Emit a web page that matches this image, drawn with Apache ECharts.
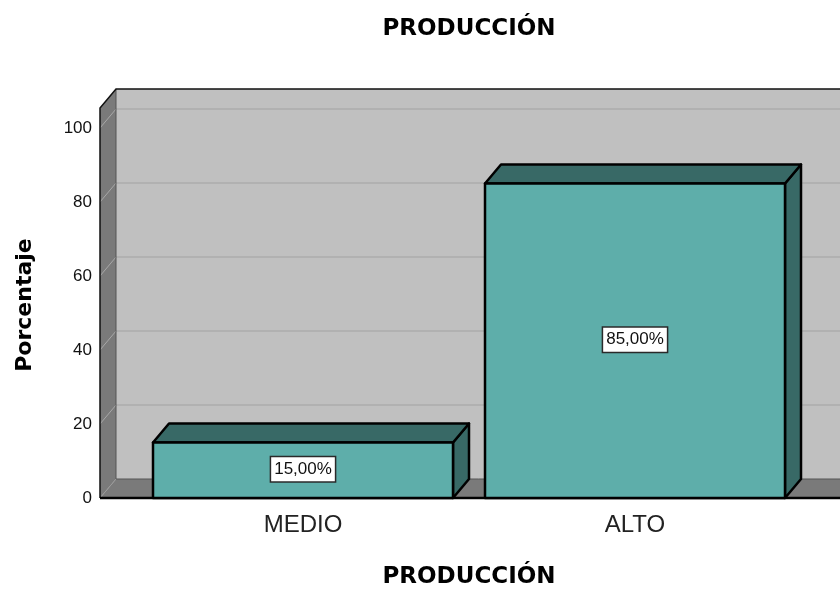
<!DOCTYPE html>
<html><head><meta charset="utf-8">
<script src="https://cdn.jsdelivr.net/npm/echarts@6/dist/echarts.min.js"></script>
<style>html,body{margin:0;padding:0;background:#fff}#c{width:840px;height:591px}</style>
</head><body><div id="c"></div>
<script>
// ---- data ----
const chartTitle = 'PRODUCCIÓN';
const xAxisTitle = 'PRODUCCIÓN';
const yAxisTitle = 'Porcentaje';
const categories = ['MEDIO', 'ALTO'];
const percentages = [15, 85];
const yTicks = [0, 20, 40, 60, 80, 100];
const wallTopValue = 105.4;

// ---- style / layout ----
const DX = 16, DY = -19;
const AXIS_OFFSET = 37;
const BAR_RATIO = 0.9036;
const FRONT = '#5eaeaa', DARK = '#386966';
const WALL = '#c0c0c0', SIDE = '#7a7a7a';

function fmt(v) { return v.toFixed(2).replace('.', ',') + '%'; }

function renderWalls(params, api) {
  const cs = params.coordSys;
  const xl = cs.x - AXIS_OFFSET;
  const xr = cs.x + cs.width + 80;
  const y0 = api.coord([0, yTicks[0]])[1];
  const yT = api.coord([0, wallTopValue])[1];
  const ch = [];
  ch.push({type: 'rect', shape: {x: xl + DX, y: yT + DY, width: xr - xl - DX, height: y0 - yT}, style: {fill: WALL}});
  yTicks.forEach(function (t) {
    if (t === yTicks[0]) return;
    const y = api.coord([0, t])[1];
    ch.push({type: 'line', shape: {x1: xl + DX, y1: y + DY, x2: xr, y2: y + DY}, style: {stroke: '#adadad', lineWidth: 1.5}});
  });
  ch.push({type: 'polygon', shape: {points: [[xl, y0], [xl, yT], [xl + DX, yT + DY], [xl + DX, y0 + DY]]}, style: {fill: SIDE}});
  yTicks.forEach(function (t) {
    if (t === yTicks[0]) return;
    const y = api.coord([0, t])[1];
    ch.push({type: 'line', shape: {x1: xl, y1: y, x2: xl + DX, y2: y + DY}, style: {stroke: '#a8a8a8', lineWidth: 1}});
  });
  ch.push({type: 'polygon', shape: {points: [[xl, y0], [xr, y0], [xr + DX, y0 + DY], [xl + DX, y0 + DY]]}, style: {fill: SIDE}});
  ch.push({type: 'polyline', shape: {points: [[xl + DX, yT + DY], [xl + DX, y0 + DY], [xr, y0 + DY]]}, style: {stroke: '#555', lineWidth: 1, fill: null}});
  ch.push({type: 'line', shape: {x1: xl, y1: y0, x2: xl + DX, y2: y0 + DY}, style: {stroke: '#9a9a9a', lineWidth: 1}});
  ch.push({type: 'polyline', shape: {points: [[xl, y0], [xl, yT], [xl + DX, yT + DY], [xr, yT + DY]]}, style: {stroke: '#111', lineWidth: 1.5, fill: null}});
  ch.push({type: 'line', shape: {x1: xl, y1: y0, x2: xr, y2: y0}, style: {stroke: '#000', lineWidth: 2.5}});
  return {type: 'group', children: ch};
}

function renderBar(params, api) {
  const idx = api.value(0), v = api.value(1);
  const top = api.coord([idx, v]);
  const base = api.coord([idx, 0]);
  const bw = api.size([1, 0])[0] * BAR_RATIO;
  const x0 = top[0] - bw / 2, x1 = top[0] + bw / 2;
  const yt = top[1], yb = base[1];
  const st = {stroke: '#000', lineWidth: 2.5, lineJoin: 'round'};
  return {type: 'group', children: [
    {type: 'polygon', shape: {points: [[x1, yt], [x1, yb], [x1 + DX, yb + DY], [x1 + DX, yt + DY]]}, style: Object.assign({fill: DARK}, st)},
    {type: 'polygon', shape: {points: [[x0, yt], [x1, yt], [x1 + DX, yt + DY], [x0 + DX, yt + DY]]}, style: Object.assign({fill: DARK}, st)},
    {type: 'rect', shape: {x: x0, y: yt, width: bw, height: yb - yt}, style: Object.assign({fill: FRONT}, st)},
    {type: 'text', z2: 10, style: {text: fmt(v), x: top[0], y: (yt + yb) / 2 - 1, align: 'center', verticalAlign: 'middle',
      fill: '#111', fontSize: 17, fontFamily: 'Liberation Sans', backgroundColor: '#fff', borderColor: '#2a2a2a', borderWidth: 1.5, padding: [4, 3, 3, 3]}}
  ]};
}

const chart = echarts.init(document.getElementById('c'), null, {renderer: 'canvas'});
chart.setOption({
  animation: false,
  backgroundColor: '#fff',
  title: {text: chartTitle, left: 464, top: 13, textAlign: 'center',
    textStyle: {fontFamily: 'DejaVu Sans', fontWeight: 'bold', fontSize: 23, color: '#000'}},
  grid: {left: 137, right: 39, top: 128, bottom: 93, outerBoundsMode: 'none', containLabel: false},
  xAxis: {type: 'category', data: categories,
    axisLine: {show: false}, axisTick: {show: false},
    axisLabel: {fontFamily: 'Liberation Sans', fontSize: 24, color: '#222', margin: 15},
    name: xAxisTitle, nameLocation: 'middle', nameGap: 68,
    nameTextStyle: {fontFamily: 'DejaVu Sans', fontWeight: 'bold', fontSize: 23, color: '#000'}},
  yAxis: {type: 'value', min: yTicks[0], max: yTicks[yTicks.length - 1], interval: 20, offset: AXIS_OFFSET,
    axisLine: {show: false}, axisTick: {show: false}, splitLine: {show: false},
    axisLabel: {fontFamily: 'Liberation Sans', fontSize: 17, color: '#111', margin: 8, padding: [5, 0, 0, 0]},
    name: yAxisTitle, nameLocation: 'middle', nameGap: 64,
    nameTextStyle: {fontFamily: 'DejaVu Sans', fontWeight: 'bold', fontSize: 22, color: '#000', padding: [0, 0, 0, 16]}},
  series: [
    {type: 'custom', z: 1, silent: true, renderItem: renderWalls, data: [[0, 0]], encode: {x: 0, y: 1}, clip: false},
    {type: 'custom', z: 2, renderItem: renderBar, data: categories.map(function (c, i) { return [i, percentages[i]]; }), encode: {x: 0, y: 1}, clip: false}
  ]
});
</script></body></html>
